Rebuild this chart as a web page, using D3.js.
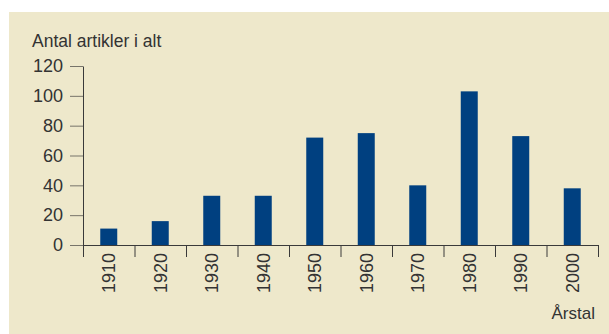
<!DOCTYPE html>
<html>
<head>
<meta charset="utf-8">
<script src="https://cdn.jsdelivr.net/npm/d3@7"></script>
<style>
  body { margin: 0; background: #fff; }
  svg text { font-family: "Liberation Sans", Arial, sans-serif; fill: #333; }
  .tick line { stroke: #77746a; }
  .domain { stroke: #3a3a3a; }
</style>
</head>
<body>
<svg class="chart" width="609" height="334"></svg>
<script>
const years = ["1910", "1920", "1930", "1940", "1950", "1960", "1970", "1980", "1990", "2000"]
const articles = [11, 16, 33, 33, 72, 75, 40, 103, 73, 38]
const yTicks = [0, 20, 40, 60, 80, 100, 120]

const svg = d3.select("svg.chart")

svg.append("rect")
    .attr("x", 9)
    .attr("y", 12)
    .attr("width", 600)
    .attr("height", 322)
    .attr("fill", "#eee8cb")

const x = d3.scaleBand()
    .domain(years)
    .range([83, 598])

// band edges, for the tick marks between the years
const edge = d3.scaleLinear()
    .domain([0, years.length])
    .range([83, 598])

const y = d3.scaleLinear()
    .domain([0, 120])
    .range([245, 66])

svg.append("g")
    .attr("transform", "translate(83,0)")
    .call(d3.axisLeft(y).tickValues(yTicks).tickSize(13).tickPadding(7).tickSizeOuter(0))
    .call(g => g.selectAll("text").style("font-size", "18px").style("fill", "#333"))

const barW = x.bandwidth() * 0.33

svg.selectAll("rect.bar")
    .data(articles)
    .enter()
    .append("rect")
    .attr("class", "bar")
    .attr("x", (d, i) => x(years[i]) + (x.bandwidth() - barW) / 2)
    .attr("width", barW)
    .attr("y", d => y(d))
    .attr("height", d => y(0) - y(d))
    .attr("fill", "#004080")

svg.append("g")
    .attr("transform", "translate(0,245)")
    .call(d3.axisBottom(edge).tickValues(d3.range(years.length + 1)).tickSize(12).tickSizeOuter(0).tickFormat(""))
    .call(g => g.selectAll(".tick line").style("stroke", "#3a3a3a"))

const xLabels = svg.append("g")
    .attr("transform", "translate(0,245)")
    .call(d3.axisBottom(x).tickSize(0).tickPadding(0))
xLabels.select(".domain").remove()
xLabels.selectAll("text")
    .attr("transform", "rotate(-90)")
    .attr("x", -8)
    .attr("y", 0)
    .attr("dy", "0.35em")
    .attr("text-anchor", "end")
    .style("font-size", "18px")
    .style("fill", "#333")

svg.append("text")
    .attr("x", 32)
    .attr("y", 47)
    .style("font-size", "17.5px")
    .text("Antal artikler i alt")

svg.append("text")
    .attr("x", 595)
    .attr("y", 319)
    .attr("text-anchor", "end")
    .style("font-size", "17px")
    .text("Årstal")
</script>
</body>
</html>
